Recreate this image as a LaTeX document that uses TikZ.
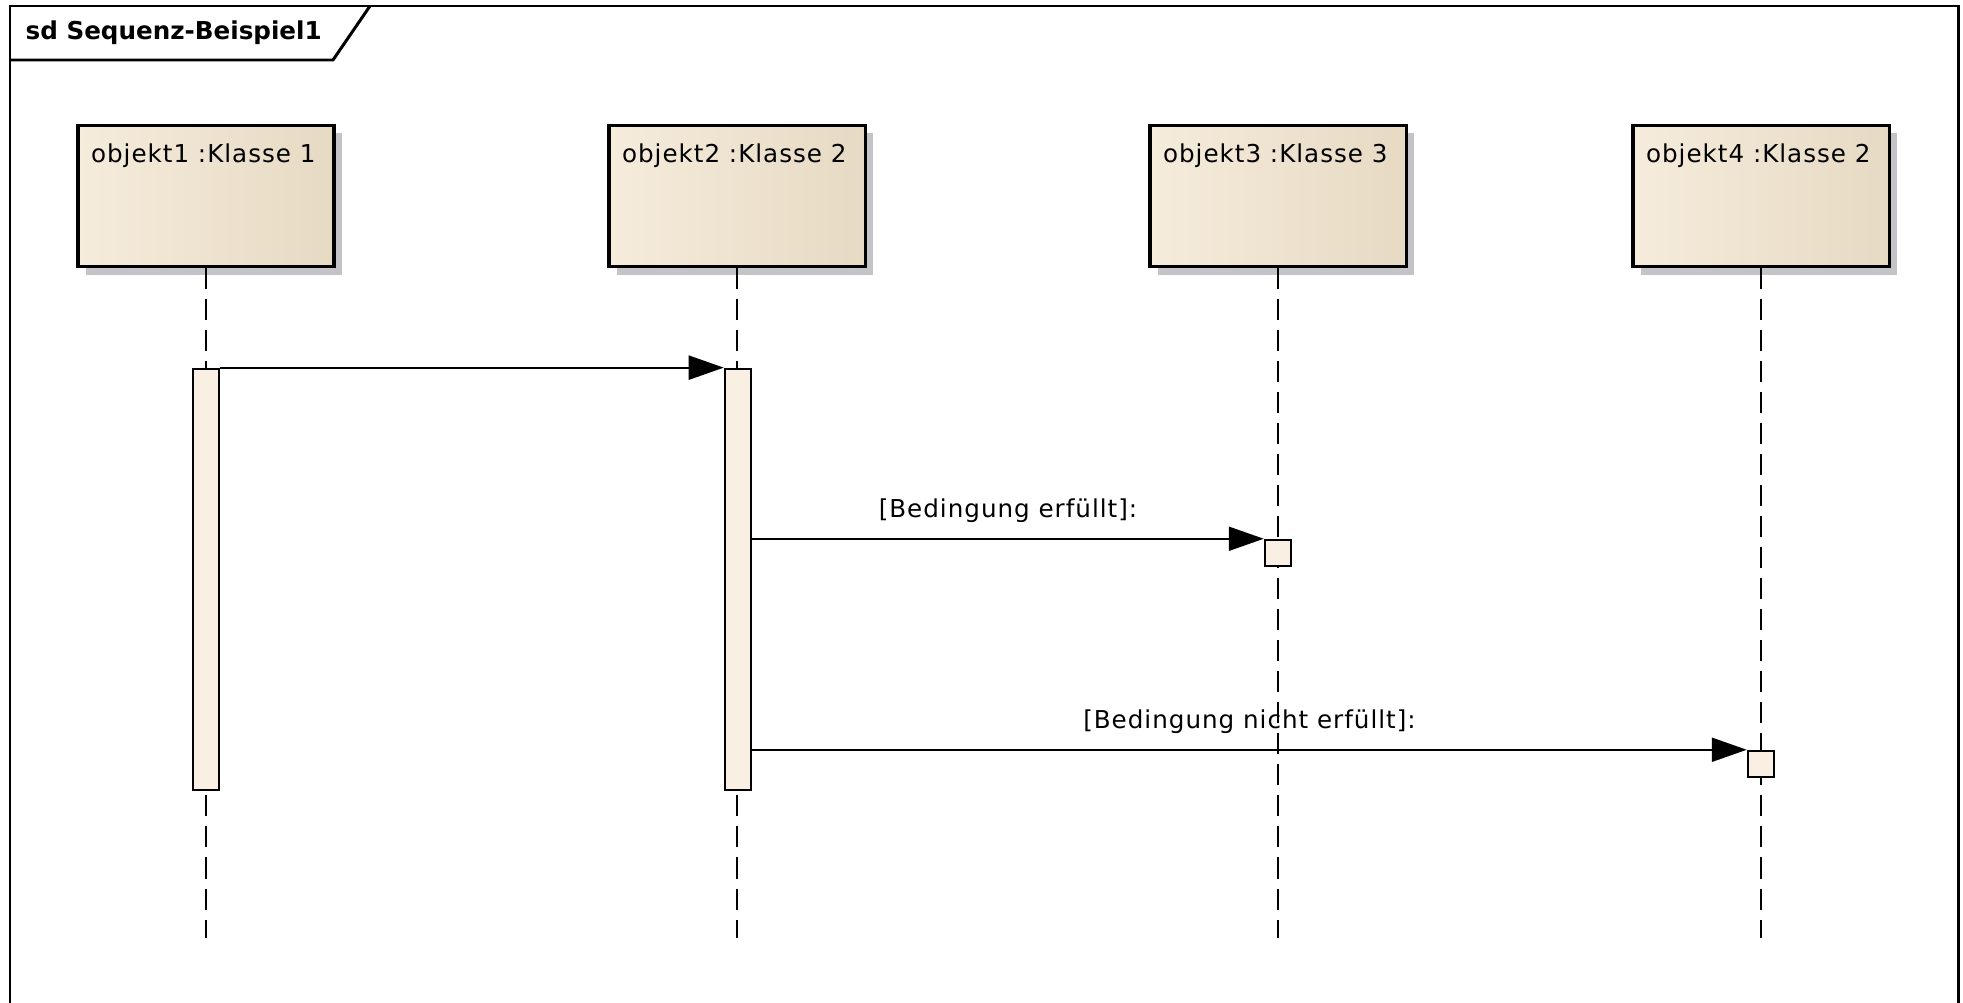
\documentclass[tikz,border=0pt]{standalone}
\usepackage{fontspec}
\setmainfont{DejaVu Sans}
\newfontfamily\diagfont[LetterSpace=4]{DejaVu Sans}
\usetikzlibrary{arrows.meta,shadows}

\definecolor{boxleft}{RGB}{246,236,220}
\definecolor{boxmid}{RGB}{250,242,230}
\definecolor{boxright}{RGB}{230,218,195}
\definecolor{barfill}{RGB}{249,239,227}
\definecolor{shadowgray}{RGB}{196,196,200}

\begin{document}
\begin{tikzpicture}[x=0.01cm,y=-0.01cm,
  every node/.style={font=\diagfont\fontsize{7}{8}\selectfont},
  obj/.style={draw,line width=0.9pt,left color=boxleft,middle color=boxmid,right color=boxright,
    minimum width=2.56cm,minimum height=1.41cm,inner sep=0pt,
    drop shadow={shadow xshift=0.08cm,shadow yshift=-0.08cm,fill=shadowgray,opacity=1}},
  objlabel/.style={anchor=north west,inner sep=0pt,xshift=0.14cm,yshift=-0.19cm},
  bar/.style={draw,line width=0.7pt,fill=barfill,minimum width=0.26cm,inner sep=0pt},
  lifeline/.style={line width=0.65pt,dash pattern=on 0.21cm off 0.1cm},
  msg/.style={line width=0.6pt,-{Triangle[length=0.35cm,width=0.24cm]}},
  frame/.style={line width=0.85pt}]
  \useasboundingbox (0,0) rectangle (1963,1003);
  % frame
  \draw[frame] (10,1003) -- (10,6) -- (1958,6) -- (1958,1003);
  \draw[frame] (10,60) -- (333,60) -- (370,6);
  \node[anchor=west,inner sep=0pt,font=\bfseries\fontsize{7}{8}\selectfont] (title) at (25,33) {sd Sequenz-Beispiel1};
  % objects
  \node[obj,label={[objlabel]north west:objekt1 :Klasse 1}] (obj1) at (206,196) {};
  \node[obj,label={[objlabel]north west:objekt2 :Klasse 2}] (obj2) at (737,196) {};
  \node[obj,label={[objlabel]north west:objekt3 :Klasse 3}] (obj3) at (1278,196) {};
  \node[obj,label={[objlabel]north west:objekt4 :Klasse 2}] (obj4) at (1761,196) {};
  \coordinate (end) at (0,938);
  \foreach \o in {obj1,obj2,obj3,obj4}
    \draw[lifeline] (\o.south) -- (\o.south |- end);
  % activations
  \node[bar,minimum height=4.21cm] (act1) at (206,579.5) {};
  \node[bar,minimum height=4.21cm] (act2) at (738,579.5) {};
  \node[bar,minimum height=0.26cm] (exec3) at (1278,553) {};
  \node[bar,minimum height=0.26cm] (exec4) at (1761,764) {};
  % messages
  \draw[msg] (act1.north east) -- (act2.north west);
  \draw[msg] (act2.east |- exec3.north) -- node[above=1pt] {[Bedingung erfüllt]:} (exec3.north west);
  \draw[msg] (act2.east |- exec4.north) -- node[above=1pt] {[Bedingung nicht erfüllt]:} (exec4.north west);
\end{tikzpicture}
\end{document}
